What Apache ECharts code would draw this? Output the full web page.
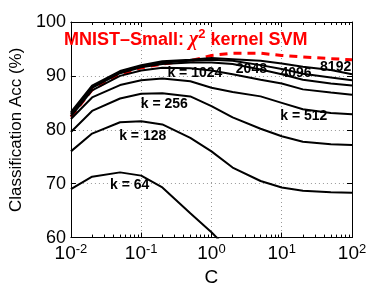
<!DOCTYPE html>
<html><head><meta charset="utf-8">
<script src="https://cdn.jsdelivr.net/npm/echarts@6/dist/echarts.min.js"></script>
<style>html,body{margin:0;padding:0;background:#fff}#c{width:388px;height:292px}</style>
</head><body><div id="c"></div>
<script>
const C = [0.01,0.02,0.05,0.1,0.2,0.5,1,2,5,10,20,50,100];
const kFull = [82.4,87.4,90.3,91.5,92.2,92.8,93.8,94.2,94.2,93.8,93.5,93.2,93.0];
const k8192 = [83.3,88.2,90.9,92.0,92.7,93.0,93.3,93.1,92.8,92.3,91.7,91.1,90.3];
const k4096 = [83.0,88.0,90.7,91.8,92.5,92.8,93.0,92.8,92.0,91.3,90.4,89.7,89.2];
const k2048 = [82.8,87.8,90.5,91.6,92.2,92.5,92.5,92.2,91.2,90.3,89.3,88.6,88.2];
const k1024 = [82.5,87.3,90.0,91.0,91.5,91.4,91.0,90.3,89.3,88.6,87.5,86.9,86.5];
const k512  = [82.0,86.0,88.3,89.2,89.5,89.0,87.8,87.0,86.2,85.0,83.8,83.1,82.9];
const k256  = [79.6,83.5,85.8,86.7,86.8,86.2,84.4,82.3,80.2,78.8,77.8,77.3,77.2];
const k128  = [76.0,79.3,81.4,81.6,81.0,78.5,76.0,73.0,70.5,69.3,68.7,68.4,68.3];
const k64   = [69.0,71.3,72.1,71.5,69.3,64.5,61.0,57.0,53.0,50.0,48.0,47.0,46.0];
const yTicks = [60,70,80,90,100];
const xMinor = [0.02,0.03,0.04,0.05,0.06,0.07,0.08,0.09,0.2,0.3,0.4,0.5,0.6,0.7,0.8,0.9,2,3,4,5,6,7,8,9,20,30,40,50,60,70,80,90];
const labels = [
  {text:'k = 64', c:0.0686, v:69.7},
  {text:'k = 128', c:0.105, v:78.9},
  {text:'k = 256', c:0.213, v:84.7},
  {text:'k = 512', c:20.6, v:82.5},
  {text:'k = 1024', c:0.58, v:90.6},
  {text:'2048', c:3.70, v:91.3},
  {text:'4096', c:16.0, v:90.6},
  {text:'8192', c:58.5, v:91.6}
];
const title = 'MNIST\u2013Small: ';

const pairs = arr => C.map((c,i)=>[c,arr[i]]);
const blackSeries = [k64,k128,k256,k512,k1024,k2048,k4096,k8192].map(a=>({
  type:'line', data:pairs(a), showSymbol:false, symbol:'none', clip:true,
  lineStyle:{color:'#000', width:2}, z:3
}));
blackSeries.push({
  type:'line', data:[], markPoint:{
    symbol:'circle', symbolSize:1, itemStyle:{color:'rgba(0,0,0,0)'},
    label:{show:true, position:'inside', color:'#000', fontWeight:'bold', fontSize:14, fontFamily:'Liberation Sans', formatter:p=>p.name},
    data: labels.map(l=>({name:l.text, coord:[l.c,l.v]}))
  }, z:5
});
const axisCommon = {min:0.01, max:100, type:'log', logBase:10};
const chart = echarts.init(document.getElementById('c'), null, {renderer:'canvas'});
chart.setOption({
  animation:false,
  backgroundColor:'#fff',
  title:{
    text:'{a|'+title+'}{chi|\u03c7}{sup|2}{a| kernel SVM}', left:59, top:23,
    textStyle:{rich:{
      a:{color:'#ff0000', fontWeight:'bold', fontSize:18, fontFamily:'Liberation Sans', lineHeight:24},
      chi:{color:'#ff0000', fontSize:20, fontStyle:'italic', fontFamily:'Liberation Serif', lineHeight:24},
      sup:{color:'#ff0000', fontWeight:'bold', fontSize:13, fontFamily:'Liberation Sans', verticalAlign:'top', lineHeight:14}
    }}
  },
  grid:{left:60, right:36, top:22, bottom:48, containLabel:false},
  xAxis:[
    Object.assign({}, axisCommon, {
      position:'bottom', name:'C', nameLocation:'middle', nameGap:28,
      nameTextStyle:{fontSize:19, fontFamily:'Liberation Sans', color:'#000'},
      axisLine:{show:true, lineStyle:{color:'#000', width:1}},
      axisTick:{show:true, inside:true, length:5, lineStyle:{color:'#000'}},
      splitLine:{show:true, lineStyle:{color:'#999', type:[1,3], width:1}},
      axisLabel:{margin:5, formatter:v=>{const e=Math.round(Math.log10(v)); return '{b|10}{s|'+(e<0?'-':'')+Math.abs(e)+'}';},
        rich:{b:{fontSize:19, fontFamily:'Liberation Sans', color:'#000', lineHeight:22},
              s:{fontSize:13, fontFamily:'Liberation Sans', color:'#000', verticalAlign:'top', lineHeight:12}}}
    }),
    Object.assign({}, axisCommon, {
      position:'bottom', axisLine:{show:false}, splitLine:{show:false}, axisLabel:{show:false},
      axisTick:{show:true, inside:true, length:3, customValues:xMinor, lineStyle:{color:'#000'}}
    }),
    Object.assign({}, axisCommon, {
      position:'top', axisLine:{show:true, lineStyle:{color:'#000'}}, splitLine:{show:false}, axisLabel:{show:false},
      axisTick:{show:true, inside:true, length:5, lineStyle:{color:'#000'}}
    }),
    Object.assign({}, axisCommon, {
      position:'top', axisLine:{show:false}, splitLine:{show:false}, axisLabel:{show:false},
      axisTick:{show:true, inside:true, length:3, customValues:xMinor, lineStyle:{color:'#000'}}
    })
  ],
  yAxis:[
    {type:'value', min:60, max:100, interval:10, position:'left',
     name:'Classification Acc (%)', nameLocation:'middle', nameGap:36,
     nameTextStyle:{fontSize:17, fontFamily:'Liberation Sans', color:'#000'},
     axisLine:{show:true, lineStyle:{color:'#000'}},
     axisTick:{show:true, inside:true, length:5, lineStyle:{color:'#000'}},
     splitLine:{show:true, lineStyle:{color:'#999', type:[1,3], width:1}},
     axisLabel:{margin:5, fontSize:18, fontFamily:'Liberation Sans', color:'#000', customValues:yTicks}},
    {type:'value', min:60, max:100, interval:10, position:'right',
     axisLine:{show:true, lineStyle:{color:'#000'}},
     axisTick:{show:true, inside:true, length:5, lineStyle:{color:'#000'}},
     splitLine:{show:false}, axisLabel:{show:false}}
  ],
  series:[{
    type:'line', data:pairs(kFull), showSymbol:false, symbol:'none', clip:true,
    lineStyle:{color:'#ff0000', width:3, type:[8,6]}, z:2
  }].concat(blackSeries)
});
</script></body></html>
